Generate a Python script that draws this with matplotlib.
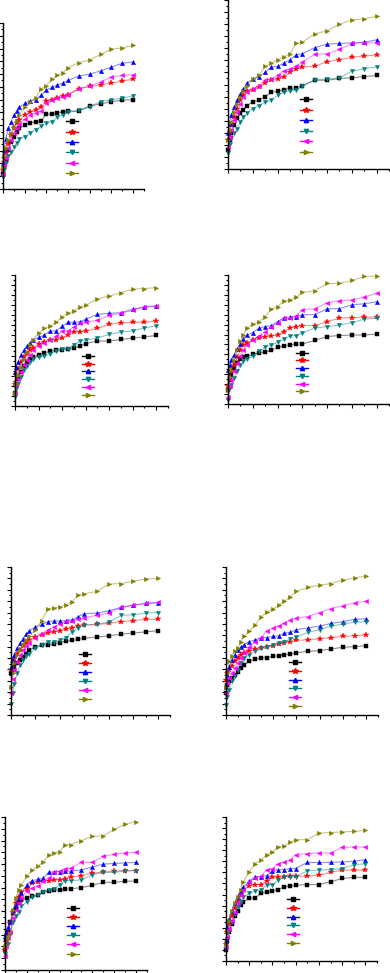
import matplotlib
matplotlib.use('Agg')
import matplotlib.pyplot as plt
from matplotlib.ticker import MultipleLocator

# time axis: dense early readings, then sparse ones
x_dense = [0, 0.25, 0.5, 1, 1.5, 2, 2.5, 3, 4, 5, 6]
x_sparse = [7, 8, 9, 10, 11, 12, 14, 16, 18, 20, 22, 24]
t = x_dense + x_sparse

colors = ['#000000', '#ff0000', '#0000ff', '#008080', '#ff00ff', '#808000']
markers = ['s', '*', '^', 'v', '<', '>']
labels = [' '] * 6

# order in every panel: black, red, blue, teal, magenta, olive
panel1 = [
    [2.4, 3.5, 4.5, 6.1, 7.4, 8.2, 9.0, 9.5, 10.0, 10.4, 10.5, 10.7, 11.7, 11.7, 11.9, 12.1, 12.2, 12.2, 13.0, 13.3, 13.7, 13.9, 14.0],
    [3.0, 4.3, 5.6, 7.1, 8.4, 9.5, 10.3, 10.8, 11.6, 12.1, 12.3, 12.9, 13.8, 14.0, 14.3, 14.5, 14.8, 15.7, 16.1, 16.3, 16.6, 16.9, 17.2],
    [4.0, 6.1, 7.9, 9.5, 10.5, 11.6, 12.2, 12.8, 13.4, 13.8, 14.0, 14.7, 15.5, 15.9, 16.3, 16.6, 17.0, 17.7, 18.0, 18.5, 19.1, 19.7, 19.9],
    [1.9, 3.0, 4.0, 5.1, 5.8, 6.6, 7.2, 7.9, 8.2, 8.7, 9.3, 9.8, 10.3, 10.5, 11.3, 11.6, 12.0, 12.3, 12.9, 13.7, 14.0, 14.2, 14.6],
    [2.4, 3.8, 4.8, 6.4, 7.7, 8.7, 9.5, 10.2, 10.9, 11.6, 11.9, 12.2, 13.4, 14.0, 14.2, 14.4, 14.8, 15.7, 16.1, 16.8, 17.5, 17.8, 17.9],
    [3.5, 5.1, 6.4, 7.7, 8.7, 9.7, 10.7, 11.6, 12.9, 13.7, 14.2, 15.7, 16.2, 17.2, 17.8, 18.2, 19.0, 19.8, 20.2, 21.1, 21.9, 22.1, 22.5],
]
panel2 = [
    [3.1, 4.8, 5.9, 7.3, 8.4, 9.2, 9.8, 10.5, 11.1, 11.4, 12.0, 12.7, 12.9, 13.1, 13.4, 13.4, 13.8, 14.7, 14.7, 15.0, 15.1, 15.3, 15.5],
    [4.8, 6.2, 7.3, 8.6, 10.0, 11.4, 12.2, 13.0, 13.1, 13.6, 14.2, 14.8, 14.9, 15.3, 16.0, 16.5, 16.9, 17.0, 17.8, 18.1, 18.5, 18.7, 18.9],
    [5.9, 7.5, 8.9, 10.3, 11.4, 12.4, 13.3, 14.2, 14.9, 15.3, 16.0, 16.9, 17.0, 17.5, 18.1, 18.9, 19.1, 20.1, 20.7, 20.8, 20.9, 21.0, 21.4],
    [2.6, 4.2, 5.2, 5.9, 6.7, 7.8, 8.6, 9.2, 10.0, 10.5, 11.1, 11.4, 12.2, 12.7, 13.0, 13.1, 13.7, 14.8, 14.9, 15.1, 16.2, 16.6, 16.9],
    [3.7, 5.3, 6.4, 8.1, 9.5, 10.7, 11.9, 12.7, 13.3, 13.8, 14.7, 14.9, 15.5, 16.3, 16.6, 17.1, 17.7, 19.0, 19.1, 19.8, 20.8, 20.9, 20.9],
    [4.8, 6.4, 7.8, 9.5, 10.8, 11.9, 12.9, 13.7, 14.9, 15.5, 17.0, 17.5, 18.1, 18.6, 19.1, 20.8, 21.0, 22.4, 22.9, 24.0, 24.7, 24.9, 25.3],
]
panel3 = [
    [2.5, 4.1, 5.4, 6.8, 7.9, 8.8, 9.4, 9.7, 10.1, 10.5, 10.9, 11.1, 11.2, 11.4, 11.5, 11.9, 12.4, 12.9, 12.9, 13.2, 13.5, 13.7, 14.0],
    [4.4, 6.1, 7.4, 8.8, 9.7, 10.4, 11.1, 11.6, 12.3, 12.7, 13.1, 13.1, 13.5, 14.1, 14.7, 14.7, 14.9, 15.4, 16.2, 16.5, 16.6, 16.6, 16.9],
    [6.8, 7.8, 8.8, 10.1, 11.1, 11.9, 12.5, 13.1, 13.6, 14.1, 14.9, 14.9, 15.8, 16.6, 16.6, 16.7, 17.2, 18.2, 18.4, 18.5, 19.2, 19.7, 19.9],
    [1.8, 3.4, 4.4, 5.8, 7.1, 7.9, 8.8, 9.3, 9.7, 9.9, 10.4, 10.9, 11.4, 11.4, 12.1, 12.9, 13.1, 13.5, 14.2, 14.7, 14.9, 15.5, 15.9],
    [2.5, 4.1, 5.4, 6.8, 8.1, 9.1, 10.1, 11.1, 11.9, 12.5, 13.1, 13.9, 14.9, 14.9, 15.7, 16.4, 16.6, 17.0, 18.0, 18.4, 19.0, 19.6, 19.8],
    [2.5, 4.4, 6.1, 7.8, 9.4, 10.7, 12.1, 13.1, 14.4, 15.4, 15.9, 16.6, 17.7, 18.4, 18.8, 19.7, 20.0, 21.3, 21.8, 22.5, 23.2, 23.3, 23.5],
]
panel4 = [
    [2.9, 4.9, 5.9, 7.2, 8.2, 9.0, 9.4, 9.6, 10.0, 10.3, 10.5, 10.8, 11.4, 11.7, 11.9, 12.1, 12.1, 12.8, 13.6, 13.8, 13.9, 13.9, 14.1],
    [3.6, 5.2, 6.6, 7.9, 9.4, 10.9, 11.9, 12.3, 12.9, 13.3, 13.6, 13.7, 13.9, 14.6, 15.3, 15.6, 15.8, 15.8, 16.6, 17.3, 17.4, 17.5, 17.5],
    [6.9, 7.9, 8.9, 9.9, 11.1, 12.1, 13.1, 13.9, 14.4, 15.3, 15.6, 15.8, 16.6, 17.4, 17.5, 17.6, 18.0, 18.0, 19.2, 19.2, 20.0, 20.2, 20.6],
    [0.9, 3.2, 3.9, 5.2, 6.6, 7.9, 8.7, 9.0, 9.7, 10.6, 11.5, 11.9, 12.4, 13.1, 13.7, 13.8, 14.3, 15.3, 15.6, 15.9, 16.4, 17.1, 17.3],
    [1.5, 3.6, 4.9, 6.6, 8.2, 9.6, 10.9, 11.9, 12.9, 13.7, 14.6, 15.6, 16.4, 17.3, 17.3, 17.8, 19.0, 19.2, 20.4, 20.8, 21.0, 21.5, 22.3],
    [2.9, 5.5, 6.9, 8.9, 10.9, 12.6, 13.9, 15.3, 16.1, 16.6, 17.6, 19.1, 19.6, 20.8, 21.0, 21.5, 22.5, 22.8, 24.3, 24.3, 24.9, 25.7, 25.8],
]
panel5 = [
    [7.4, 7.9, 8.5, 9.1, 9.6, 10.2, 10.8, 11.4, 12.0, 12.3, 12.3, 12.5, 12.7, 13.0, 13.1, 13.3, 13.5, 13.7, 13.9, 14.2, 14.4, 14.6, 14.8],
    [7.9, 9.1, 9.9, 10.8, 11.5, 12.1, 12.7, 13.2, 13.7, 14.1, 14.4, 14.6, 14.8, 15.1, 15.3, 15.6, 15.8, 15.9, 16.1, 16.4, 16.6, 16.8, 16.8],
    [8.5, 9.6, 10.5, 11.7, 12.6, 13.4, 14.2, 14.8, 15.5, 15.9, 16.4, 16.5, 16.5, 16.6, 16.7, 17.3, 17.8, 17.9, 18.3, 18.9, 19.3, 19.6, 19.7],
    [2.0, 3.8, 5.5, 7.3, 8.8, 9.6, 10.3, 10.8, 11.7, 12.3, 12.8, 12.8, 13.1, 13.6, 14.6, 15.2, 15.8, 15.9, 16.3, 17.5, 17.6, 17.9, 18.0],
    [3.8, 6.4, 7.9, 9.3, 10.5, 11.4, 12.1, 12.7, 13.6, 14.3, 14.9, 15.5, 15.9, 16.5, 16.6, 16.8, 17.1, 17.5, 17.9, 18.9, 19.3, 19.6, 19.8],
    [5.0, 7.3, 9.1, 10.5, 11.5, 12.3, 13.1, 13.8, 14.9, 16.6, 18.6, 18.8, 19.0, 19.4, 19.9, 21.1, 21.3, 21.7, 23.0, 23.1, 23.5, 23.9, 24.0],
]
panel6 = [
    [3.8, 5.3, 5.9, 6.5, 7.0, 7.6, 8.2, 8.8, 9.4, 9.8, 10.0, 10.1, 10.3, 10.4, 10.6, 10.7, 10.9, 11.2, 11.3, 11.6, 11.9, 12.0, 12.2],
    [6.2, 7.3, 7.9, 8.6, 9.4, 10.0, 10.6, 10.9, 11.2, 11.6, 11.7, 11.9, 12.2, 12.4, 12.7, 12.9, 13.1, 13.2, 13.4, 13.6, 13.8, 13.9, 14.1],
    [5.0, 7.0, 8.5, 9.7, 10.6, 11.4, 11.9, 12.3, 12.9, 13.2, 13.6, 13.6, 13.8, 13.9, 14.4, 14.5, 15.0, 15.3, 15.6, 16.1, 16.4, 16.8, 16.9],
    [1.8, 3.2, 4.4, 5.9, 6.8, 7.9, 9.1, 10.0, 10.6, 11.2, 11.7, 11.9, 12.3, 12.7, 12.9, 13.3, 13.7, 14.5, 15.0, 15.6, 16.0, 16.3, 16.4],
    [3.8, 5.6, 6.5, 7.3, 8.2, 9.1, 10.0, 10.9, 12.0, 12.9, 13.6, 14.8, 15.3, 15.7, 16.1, 16.7, 17.0, 17.3, 18.0, 18.7, 19.2, 19.7, 20.0],
    [5.0, 7.3, 9.4, 10.3, 11.2, 11.7, 12.9, 13.8, 14.7, 15.8, 17.3, 18.1, 18.6, 19.3, 20.0, 20.8, 21.7, 22.4, 22.8, 23.1, 23.7, 24.1, 24.4],
]
panel7 = [
    [3.4, 5.1, 6.5, 8.2, 9.7, 10.5, 11.4, 11.9, 12.3, 12.5, 12.7, 13.2, 13.5, 13.6, 13.6, 13.7, 13.8, 14.0, 14.4, 14.9, 14.9, 15.1, 15.1],
    [3.4, 4.8, 6.2, 8.0, 9.9, 11.4, 12.4, 13.2, 13.8, 14.7, 14.9, 15.1, 15.2, 15.3, 15.3, 15.4, 15.8, 16.0, 16.5, 16.6, 16.8, 16.9, 16.9],
    [5.7, 6.5, 7.3, 8.2, 10.2, 11.1, 12.2, 13.1, 14.5, 15.2, 15.4, 15.6, 16.6, 16.7, 16.7, 16.8, 16.8, 17.0, 17.5, 18.0, 18.1, 18.2, 18.3],
    [2.8, 4.0, 4.5, 6.2, 8.2, 9.1, 9.9, 10.8, 11.6, 12.4, 12.8, 13.3, 13.6, 13.8, 14.5, 15.2, 15.2, 15.3, 16.2, 16.6, 16.6, 16.8, 16.9],
    [2.3, 4.0, 5.4, 6.5, 8.8, 10.2, 11.4, 12.2, 13.4, 13.9, 14.3, 15.1, 15.6, 16.7, 16.8, 17.2, 17.3, 18.3, 18.3, 19.3, 19.7, 19.9, 20.0],
    [4.0, 4.3, 5.4, 6.2, 10.2, 12.2, 13.6, 14.5, 15.9, 17.0, 17.7, 18.3, 19.6, 19.9, 20.1, 21.3, 21.3, 22.0, 22.7, 22.8, 23.9, 24.8, 25.2],
]
panel8 = [
    [1.9, 3.7, 5.2, 6.7, 8.1, 9.1, 10.1, 10.7, 11.3, 11.4, 12.2, 12.5, 12.6, 12.9, 13.4, 13.5, 13.7, 13.8, 13.8, 14.3, 14.9, 15.1, 15.1],
    [3.1, 5.2, 6.7, 8.2, 9.6, 10.8, 11.9, 12.8, 13.5, 13.8, 13.8, 14.4, 15.1, 15.1, 15.2, 15.3, 15.3, 15.3, 15.5, 16.0, 16.4, 16.4, 16.4],
    [3.7, 6.1, 7.6, 9.1, 10.4, 11.6, 12.6, 13.4, 14.4, 15.2, 15.2, 15.4, 16.2, 16.5, 16.5, 16.7, 16.7, 17.8, 17.8, 17.8, 17.9, 18.0, 18.3],
    [2.2, 4.0, 5.5, 7.0, 8.5, 9.8, 10.7, 11.6, 12.2, 12.6, 12.8, 13.7, 13.8, 14.6, 15.2, 15.2, 15.2, 16.3, 16.4, 16.5, 16.7, 17.3, 17.6],
    [2.5, 4.3, 5.8, 7.3, 8.8, 10.4, 11.9, 12.9, 14.3, 15.0, 15.3, 16.5, 16.7, 17.6, 17.9, 18.2, 19.2, 19.4, 19.5, 19.5, 20.5, 20.6, 20.6],
    [3.1, 5.5, 7.3, 9.1, 10.4, 11.6, 12.9, 14.3, 16.1, 17.6, 18.2, 19.2, 19.7, 20.6, 20.7, 21.4, 21.9, 21.9, 23.1, 23.2, 23.3, 23.4, 23.6],
]
panels = [panel1, panel2, panel3, panel4, panel5, panel6, panel7, panel8]
y_top = [26, 28, 26, 26, 26, 26, 26, 26]

# axes boxes in pixels: left, top, right, bottom
boxes = [(3, 23, 144, 189), (228, 0, 389, 169),
         (15, 275, 168, 406), (228, 275, 389, 404),
         (11, 567, 170, 715), (226, 567, 378, 715),
         (5, 817, 147, 970), (226, 817, 377, 961)]
# legend: left x, first row y, row spacing (pixels)
leg_pos = [(66, 124, 10.2), (300, 102, 10.4),
           (82, 357, 7.8), (296, 354, 7.6),
           (79, 656, 8.8), (289, 664, 8.6),
           (67, 910, 9.0), (287, 901, 8.6)]

W, H = 390, 973
fig = plt.figure(figsize=(W / 100, H / 100), dpi=100)

for k, data in enumerate(panels):
    l, tp, r, b = boxes[k]
    ax = fig.add_axes([l / W, 1 - b / H, (r - l) / W, (b - tp) / H])
    handles = []
    for i, y in enumerate(data):
        c = colors[i]
        ms = 3.1 if i != 1 else 3.8
        ax.plot(t, y, color=c, alpha=0.45, lw=0.8, clip_on=False)
        ax.plot(t, y, ls='none', marker=markers[i], ms=ms,
                color=c, mec=c, mew=0.3, clip_on=False)
        h, = ax.plot([], [], color=c, lw=1.0, marker=markers[i], ms=ms, mec=c)
        handles.append(h)
    ax.set_xlim(0, 26)
    ax.set_ylim(0, y_top[k])
    ax.xaxis.set_major_locator(MultipleLocator(4))
    ax.xaxis.set_minor_locator(MultipleLocator(2))
    ax.yaxis.set_major_locator(MultipleLocator(2))
    ax.yaxis.set_minor_locator(MultipleLocator(1))
    ax.tick_params(which='both', direction='out', labelbottom=False, labelleft=False,
                   top=False, right=False, width=0.8)
    ax.tick_params(which='major', length=3)
    ax.tick_params(which='minor', length=1.6)
    for s in ['top', 'right']:
        ax.spines[s].set_visible(False)
    for s in ['left', 'bottom']:
        ax.spines[s].set_linewidth(1.0)
    ax.patch.set_alpha(0)

    lx, ly, sp = leg_pos[k]
    fs = 5
    fs_px = fs * 100 / 72
    ls = sp / fs_px - 0.85
    fig.legend(handles, labels, loc='upper left',
               bbox_to_anchor=(lx / W, 1 - (ly - sp / 2) / H),
               bbox_transform=fig.transFigure, frameon=False, fontsize=fs,
               borderpad=0, borderaxespad=0, handlelength=1.7, handletextpad=0.2,
               labelspacing=ls, numpoints=1)

fig.savefig('out.png', dpi=100)
